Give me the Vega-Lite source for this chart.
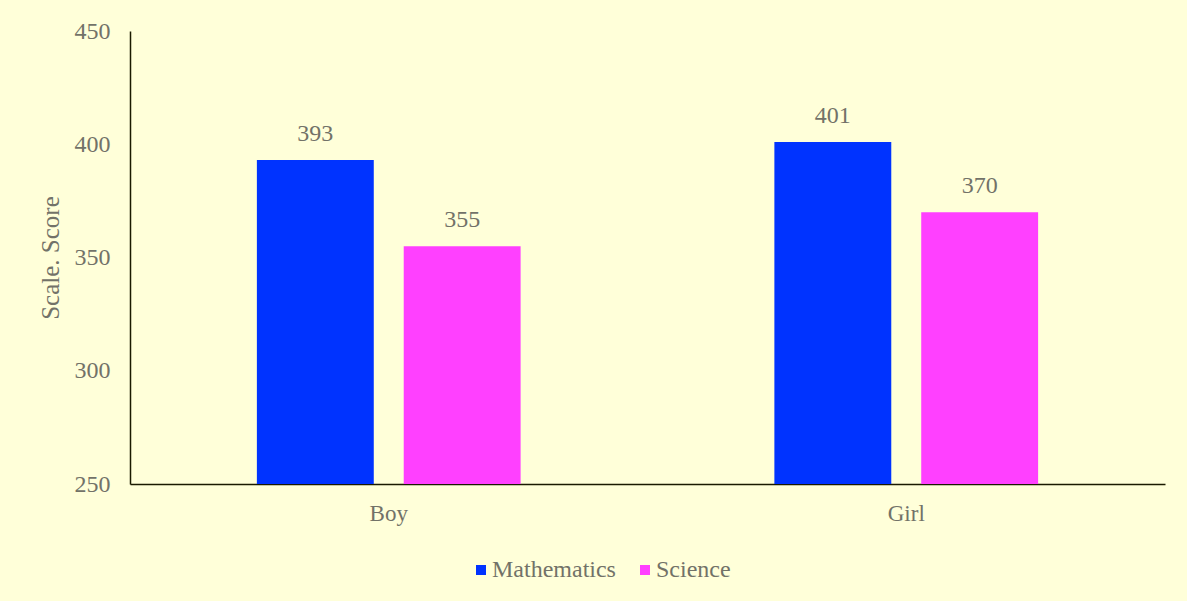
{
  "$schema": "https://vega.github.io/schema/vega-lite/v6.json",
  "autosize": {"type": "none"},
  "width": 1035,
  "height": 453,
  "padding": {"left": 130, "top": 31, "right": 22, "bottom": 117},
  "background": "#FFFFD9",
  "config": {
    "view": {"stroke": null},
    "font": "Liberation Serif",
    "text": {"font": "Liberation Serif"}
  },
  "data": {
    "values": [
      {"gender": "Boy", "subject": "Mathematics", "score": 393},
      {"gender": "Boy", "subject": "Science", "score": 355},
      {"gender": "Girl", "subject": "Mathematics", "score": 401},
      {"gender": "Girl", "subject": "Science", "score": 370}
    ]
  },
  "encoding": {
    "x": {
      "field": "gender",
      "type": "nominal",
      "sort": ["Boy", "Girl"],
      "scale": {"paddingInner": 0, "paddingOuter": 0},
      "axis": {
        "title": null,
        "labelAngle": 0,
        "labelFont": "Liberation Serif",
        "labelFontSize": 23,
        "labelColor": "#727268",
        "labelPadding": 18,
        "ticks": false,
        "domainColor": "#1a1a00",
        "domainWidth": 1.5
      }
    },
    "xOffset": {
      "field": "subject",
      "type": "nominal",
      "sort": ["Mathematics", "Science"],
      "scale": {"paddingInner": 0.204, "paddingOuter": 0.864}
    },
    "y": {
      "field": "score",
      "type": "quantitative",
      "scale": {"domain": [250, 450], "zero": false, "nice": false},
      "axis": {
        "title": "Scale. Score",
        "titleFont": "Liberation Serif",
        "titleFontSize": 25,
        "titleFontWeight": "normal",
        "titleColor": "#727268",
        "titleX": -80,
        "titleY": 226.5,
        "titleAngle": -90,
        "titleAlign": "center",
        "titleBaseline": "middle",
        "values": [250, 300, 350, 400, 450],
        "labelFont": "Liberation Serif",
        "labelFontSize": 24,
        "labelColor": "#727268",
        "labelPadding": 20,
        "labelBaseline": "middle",
        "ticks": false,
        "grid": false,
        "domainColor": "#1a1a00",
        "domainWidth": 1.5
      }
    }
  },
  "layer": [
    {
      "mark": {"type": "bar", "clip": true},
      "encoding": {
        "y2": {"datum": 250},
        "color": {
          "field": "subject",
          "type": "nominal",
          "sort": ["Mathematics", "Science"],
          "scale": {"domain": ["Mathematics", "Science"], "range": ["#0033FF", "#FF40FF"]},
          "legend": {
            "title": null,
            "orient": "none",
            "direction": "horizontal",
            "legendX": 339,
            "legendY": 527,
            "symbolType": "square",
            "symbolSize": 100,
            "symbolStrokeWidth": 0,
            "labelFont": "Liberation Serif",
            "labelFontSize": 24,
            "labelColor": "#727268",
            "labelOffset": -1,
            "columnPadding": 17
          }
        }
      }
    },
    {
      "mark": {"type": "text", "baseline": "alphabetic", "dy": -19, "fontSize": 24, "color": "#727268", "font": "Liberation Serif"},
      "encoding": {
        "text": {"field": "score", "type": "quantitative"}
      }
    }
  ]
}
